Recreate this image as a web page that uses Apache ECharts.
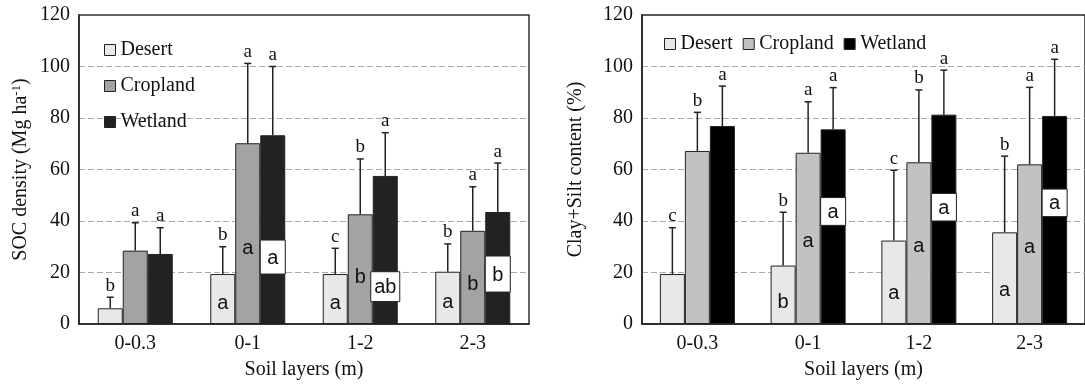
<!DOCTYPE html>
<html><head><meta charset="utf-8">
<script src="https://cdn.jsdelivr.net/npm/echarts@6/dist/echarts.min.js"></script>
<style>html,body{margin:0;padding:0;background:#fff}#c{width:1085px;height:386px}</style>
</head><body><div id="c"></div>
<script>
const categories = ['0-0.3', '0-1', '1-2', '2-3'];
const seriesNames = ['Desert', 'Cropland', 'Wetland'];

// Left panel: SOC density (Mg ha-1)
const socDesert = [6.1, 19.4, 19.4, 20.3];
const socDesertErr = [10.4, 30.0, 29.4, 31.1];
const socCropland = [28.5, 70.2, 42.6, 36.2];
const socCroplandErr = [39.3, 101.2, 64.1, 53.3];
const socWetland = [27.2, 73.3, 57.5, 43.5];
const socWetlandErr = [37.4, 100.0, 74.3, 62.5];
const socDesertTop = ['b', 'b', 'c', 'b'];
const socCroplandTop = ['a', 'a', 'b', 'a'];
const socWetlandTop = ['a', 'a', 'a', 'a'];
const socDesertIn = ['', 'a', 'a', 'a'];
const socCroplandIn = ['', 'a', 'b', 'b'];
const socWetlandIn = ['', 'a', 'ab', 'b'];
const socWetlandInLow = [null, 19.4, 8.7, 12.4];
const socWetlandInHigh = [null, 32.6, 20.3, 26.4];

// Right panel: Clay+Silt content (%)
const clayDesert = [19.4, 22.7, 32.4, 35.6];
const clayDesertErr = [37.4, 43.4, 59.7, 65.2];
const clayCropland = [67.2, 66.5, 62.8, 62.0];
const clayCroplandErr = [82.2, 86.3, 90.9, 91.9];
const clayWetland = [76.9, 75.6, 81.3, 80.8];
const clayWetlandErr = [92.4, 91.8, 98.6, 102.8];
const clayDesertTop = ['c', 'b', 'c', 'b'];
const clayCroplandTop = ['b', 'a', 'b', 'a'];
const clayWetlandTop = ['a', 'a', 'a', 'a'];
const clayDesertIn = ['', 'b', 'a', 'a'];
const clayCroplandIn = ['', 'a', 'a', 'a'];
const clayWetlandIn = ['', 'a', 'a', 'a'];
const clayWetlandInLow = [null, 38.3, 40.0, 41.7];
const clayWetlandInHigh = [null, 49.1, 50.7, 52.4];

const yMin = 0, yMax = 120, yStep = 20;

const SERIF = '"Liberation Serif", "Times New Roman", serif';
const SANS = '"Liberation Sans", Arial, sans-serif';
const BW = 25;
const leftColors = ['#e8e8e8', '#a3a3a3', '#222222'];
const rightColors = ['#e8e8e8', '#c2c2c2', '#000000'];

function barSeries(name, data, color, idx, inLabels, posY) {
  return {
    type: 'bar', name: name, data: data, xAxisIndex: idx, yAxisIndex: idx,
    barWidth: BW, barGap: '0%',
    itemStyle: { color: color, borderColor: '#222', borderWidth: 1 },
    label: {
      show: true, position: ['50%', posY], align: 'center', verticalAlign: 'middle',
      formatter: p => inLabels[p.dataIndex],
      fontFamily: SANS, fontSize: 20, color: '#111'
    },
    emphasis: { disabled: true }
  };
}

function errSeries(idx, vals, errs, tops) {
  const items = [];
  for (let s = 0; s < 3; s++) {
    for (let i = 0; i < categories.length; i++) {
      items.push({ cat: i, val: vals[s][i], err: errs[s][i], s: s, letter: tops[s][i] });
    }
  }
  return {
    type: 'custom', xAxisIndex: idx, yAxisIndex: idx, silent: true, z: 3,
    encode: { x: 0, y: [1, 2] },
    data: items.map(d => [d.cat, d.val, d.err]),
    renderItem: function (params, api) {
      const d = items[params.dataIndex];
      const base = api.coord([d.cat, d.val]);
      const top = api.coord([d.cat, d.err]);
      const x = base[0] + (d.s - 1) * BW;
      return {
        type: 'group', children: [
          { type: 'line', shape: { x1: x, y1: base[1], x2: x, y2: top[1] }, style: { stroke: '#222', lineWidth: 1.5 } },
          { type: 'line', shape: { x1: x - 3.5, y1: top[1], x2: x + 3.5, y2: top[1] }, style: { stroke: '#222', lineWidth: 1.5 } },
          { type: 'text', x: x, y: top[1] - 2, style: { text: d.letter, align: 'center', verticalAlign: 'bottom', font: '19px ' + SERIF, fill: '#111' } }
        ]
      };
    }
  };
}

function boxSeries(idx, lows, highs, labels) {
  const items = [];
  for (let i = 0; i < categories.length; i++) {
    if (lows[i] != null) items.push({ cat: i, lo: lows[i], hi: highs[i], t: labels[i] });
  }
  return {
    type: 'custom', xAxisIndex: idx, yAxisIndex: idx, silent: true, z: 4,
    encode: { x: 0, y: [1, 2] },
    data: items.map(d => [d.cat, d.lo, d.hi]),
    renderItem: function (params, api) {
      const d = items[params.dataIndex];
      const p1 = api.coord([d.cat, d.hi]);
      const p0 = api.coord([d.cat, d.lo]);
      const x = p1[0] + BW;
      const w = Math.max(BW, d.t.length * 11 + 7);
      return {
        type: 'group', children: [
          { type: 'rect', shape: { x: x - w / 2, y: p1[1], width: w, height: p0[1] - p1[1] }, style: { fill: '#fff', stroke: '#222', lineWidth: 1 } },
          { type: 'text', x: x, y: (p0[1] + p1[1]) / 2 + 1, style: { text: d.t, align: 'center', verticalAlign: 'middle', font: '20px ' + SANS, fill: '#111' } }
        ]
      };
    }
  };
}

function xAxis(idx) {
  return {
    type: 'category', gridIndex: idx, data: categories,
    axisTick: { show: false },
    axisLine: { lineStyle: { color: '#222', width: 1.5 } },
    axisLabel: { fontFamily: SERIF, fontSize: 20, color: '#111', margin: 10 },
    name: 'Soil layers (m)', nameLocation: 'middle', nameGap: 36,
    nameTextStyle: { fontFamily: SERIF, fontSize: 20, color: '#111' }
  };
}
function yAxis(idx, name, gap, rich) {
  return {
    type: 'value', gridIndex: idx, min: yMin, max: yMax, interval: yStep,
    axisLine: { show: true, lineStyle: { color: '#222', width: 1.5 } },
    axisTick: { show: false },
    axisLabel: { fontFamily: SERIF, fontSize: 20, color: '#111', margin: 9 },
    splitLine: { show: true, showMinLine: false, showMaxLine: false, lineStyle: { color: '#aaaaaa', type: [6, 3], width: 1.2 } },
    name: name, nameLocation: 'middle', nameGap: gap,
    nameTextStyle: Object.assign({ fontFamily: SERIF, fontSize: 20, color: '#111' }, rich ? { rich: rich } : {})
  };
}

const chart = echarts.init(document.getElementById('c'), null, { renderer: 'canvas' });
chart.setOption({
  animation: false,
  backgroundColor: '#fff',
  grid: [
    { left: 79, right: 556, top: 15, bottom: 62, show: true, borderColor: '#333', borderWidth: 1.5, backgroundColor: 'transparent' },
    { left: 642, right: -6, top: 15, bottom: 62, show: true, borderColor: '#222', borderWidth: 1.5, backgroundColor: 'transparent' }
  ],
  legend: [
    {
      orient: 'vertical', left: 99, top: 35, itemWidth: 11, itemHeight: 11, itemGap: 16,
      icon: 'rect', selectedMode: false,
      textStyle: { fontFamily: SERIF, fontSize: 20, color: '#111' },
      data: seriesNames.map((n, i) => ({ name: n, itemStyle: { color: leftColors[i], borderColor: '#222', borderWidth: 1 } }))
    },
    {
      orient: 'horizontal', left: 659, top: 29, itemWidth: 11, itemHeight: 11, itemGap: 10,
      icon: 'rect', selectedMode: false,
      textStyle: { fontFamily: SERIF, fontSize: 20, color: '#111' },
      data: seriesNames.map((n, i) => ({ name: n, itemStyle: { color: rightColors[i], borderColor: '#222', borderWidth: 1 } }))
    }
  ],
  xAxis: [xAxis(0), xAxis(1)],
  yAxis: [
    yAxis(0, '{t|SOC density (Mg ha}{s|-1}{t|)}', 47, {
      t: { fontFamily: SERIF, fontSize: 20, color: '#111' },
      s: { fontFamily: SERIF, fontSize: 13, color: '#111', verticalAlign: 'top', lineHeight: 22 }
    }),
    yAxis(1, 'Clay+Silt content (%)', 56)
  ],
  series: [
    barSeries('Desert', socDesert, leftColors[0], 0, socDesertIn, '58%'),
    barSeries('Cropland', socCropland, leftColors[1], 0, socCroplandIn, '58%'),
    barSeries('Wetland', socWetland, leftColors[2], 0, ['', '', '', ''], '50%'),
    errSeries(0, [socDesert, socCropland, socWetland], [socDesertErr, socCroplandErr, socWetlandErr], [socDesertTop, socCroplandTop, socWetlandTop]),
    boxSeries(0, socWetlandInLow, socWetlandInHigh, socWetlandIn),
    barSeries('Desert', clayDesert, rightColors[0], 1, clayDesertIn, '63%'),
    barSeries('Cropland', clayCropland, rightColors[1], 1, clayCroplandIn, '52%'),
    barSeries('Wetland', clayWetland, rightColors[2], 1, ['', '', '', ''], '50%'),
    errSeries(1, [clayDesert, clayCropland, clayWetland], [clayDesertErr, clayCroplandErr, clayWetlandErr], [clayDesertTop, clayCroplandTop, clayWetlandTop]),
    boxSeries(1, clayWetlandInLow, clayWetlandInHigh, clayWetlandIn)
  ]
});
</script>
</body></html>
